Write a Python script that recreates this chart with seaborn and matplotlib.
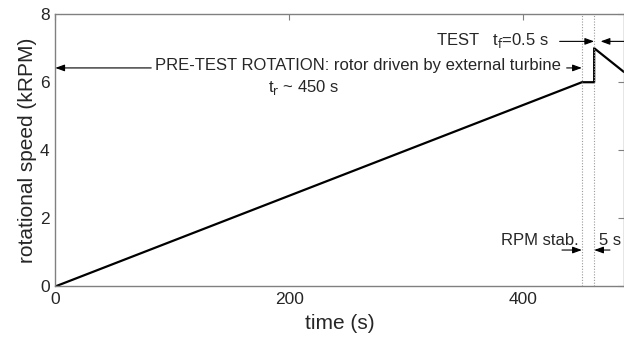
import matplotlib
matplotlib.use("Agg")
import matplotlib.pyplot as plt
import seaborn as sns
import pandas as pd

# Rotor speed history: spin-up, stabilisation plateau, test, run-down
time_s = [0, 450, 460.5, 460.5, 486]
speed_krpm = [0.0, 6.0, 6.0, 7.0, 6.3]

x_ticks = [0, 200, 400]
y_ticks = [0, 2, 4, 6, 8]
stab_start = 450
test_start = 460.5

sns.set_style("white")
plt.rcParams["font.family"] = ["Liberation Sans", "DejaVu Sans"]

df = pd.DataFrame({"time": time_s, "speed": speed_krpm})

fig = plt.figure(figsize=(6.24, 3.37), dpi=100)
ax = fig.add_axes([0.0886, 0.150, 0.9114, 0.808])

sns.lineplot(data=df, x="time", y="speed", ax=ax, color="black",
             linewidth=1.6, sort=False, estimator=None)

ax.set_xlim(0, 486)
ax.set_ylim(0, 8)
ax.set_xticks(x_ticks)
ax.set_yticks(y_ticks)
ax.tick_params(direction="in", length=4, width=0.8, color="#808080",
               top=True, right=True, labelsize=12.5, pad=4)
for sp in ax.spines.values():
    sp.set_color("#808080")
    sp.set_linewidth(1.0)
    sp.set_visible(True)

ax.set_xlabel("time (s)", fontsize=15, labelpad=5)
ax.set_ylabel("rotational speed (kRPM)", fontsize=15, labelpad=2)

for xv in (stab_start, test_start):
    ax.axvline(xv, color="#9a9a9a", linestyle=(0, (1, 1.5)), linewidth=0.8)

arrow = dict(arrowstyle="-|>,head_length=0.55,head_width=0.2",
             color="black", linewidth=0.8, shrinkA=0, shrinkB=0)

# pre-test rotation annotation
ax.text(85, 6.5, "PRE-TEST ROTATION: rotor driven by external turbine",
        fontsize=12, va="center", ha="left")
ax.annotate("", xy=(0, 6.42), xytext=(82, 6.42), arrowprops=arrow)
ax.annotate("", xy=(stab_start, 6.42), xytext=(437, 6.42), arrowprops=arrow)
ax.text(182, 5.85, r"t$_{\rm r}$ ~ 450 s", fontsize=12, va="center", ha="left")

# test duration annotation
ax.text(325, 7.22, "TEST   t$_{\\rm f}$=0.5 s", fontsize=12,
        va="center", ha="left")
ax.annotate("", xy=(test_start, 7.2), xytext=(431, 7.2), arrowprops=arrow)
ax.annotate("", xy=(466, 7.2), xytext=(486, 7.2), arrowprops=arrow,
            annotation_clip=False)

# stabilisation annotation
ax.text(381, 1.35, "RPM stab.", fontsize=12, va="center", ha="left")
ax.text(465, 1.35, "5 s", fontsize=12, va="center", ha="left")
ax.annotate("", xy=(stab_start, 1.07), xytext=(433, 1.07), arrowprops=arrow)
ax.annotate("", xy=(test_start, 1.07), xytext=(474, 1.07), arrowprops=arrow)

fig.savefig("out.png", dpi=100)
